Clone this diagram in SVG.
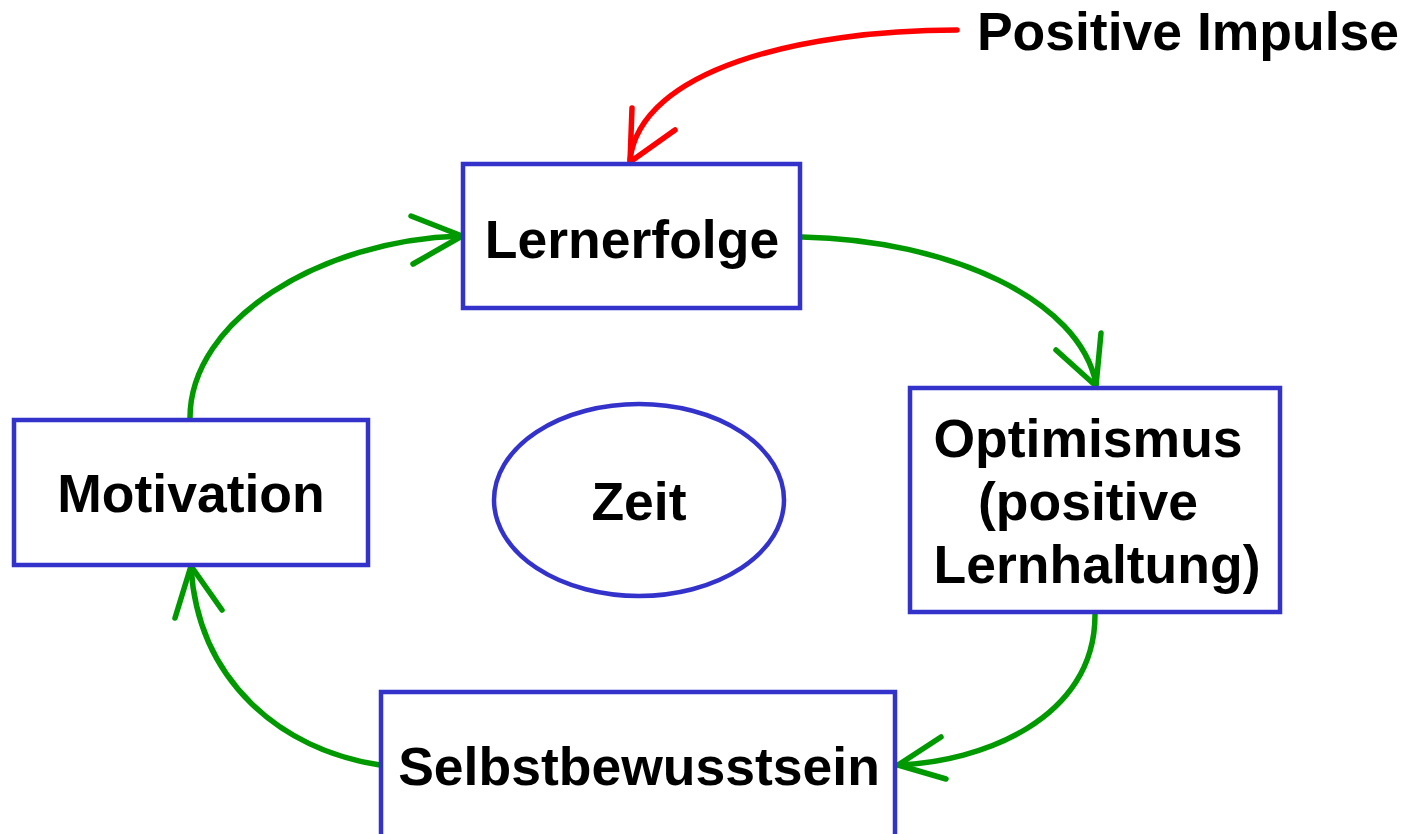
<svg xmlns="http://www.w3.org/2000/svg" width="1407" height="834" viewBox="0 0 1407 834">
<style>
.box{fill:#fff;stroke:#3333CC;stroke-width:4.5}
.t{font-family:"Liberation Sans",Arial,sans-serif;font-weight:bold;font-size:53.5px;fill:#000;text-anchor:middle}
.g{fill:none;stroke:#009900;stroke-width:5.5;stroke-linecap:round;stroke-linejoin:round}
.r{fill:none;stroke:#FF0000;stroke-width:5.5;stroke-linecap:round;stroke-linejoin:round}
</style>
<rect width="1407" height="834" fill="#fff"/>
<g id="connectors">
<path class="r" d="M957 30 C800 30 640 70 630 160"/>
<path class="r" d="M632 108 L630 162 L675 130"/>
<path class="g" d="M802 237 C950 240 1080 300 1096 384"/>
<path class="g" d="M1101 333 L1096 386 L1056 350"/>
<path class="g" d="M1095 615 C1095 720 980 762 898 765"/>
<path class="g" d="M941 737 L898 765 L946 779"/>
<path class="g" d="M380 765 C280 750 198 680 191 567"/>
<path class="g" d="M175 618 L191 566 L222 610"/>
<path class="g" d="M190 418 C190 320 320 240 461 236"/>
<path class="g" d="M411 216 L462 236 L413 264"/>
</g>
<g id="lernerfolge"><rect class="box" x="463" y="164" width="337" height="144"/><text class="t" x="632" y="258">Lernerfolge</text></g>
<g id="optimismus"><rect class="box" x="910" y="388" width="370" height="224"/><text class="t" x="1088" y="457">Optimismus</text><text class="t" x="1088" y="520">(positive</text><text class="t" x="1097" y="583">Lernhaltung)</text></g>
<g id="motivation"><rect class="box" x="14" y="420" width="354" height="145"/><text class="t" x="191" y="512">Motivation</text></g>
<g id="selbst"><rect class="box" x="381" y="692" width="514" height="160"/><text class="t" x="639" y="785">Selbstbewusstsein</text></g>
<g id="zeit"><ellipse cx="639" cy="500" rx="145" ry="96" fill="#fff" stroke="#3333CC" stroke-width="4.5"/><text class="t" x="639" y="520">Zeit</text></g>
<g id="impulse"><text class="t" x="1188" y="50">Positive Impulse</text></g>
</svg>
